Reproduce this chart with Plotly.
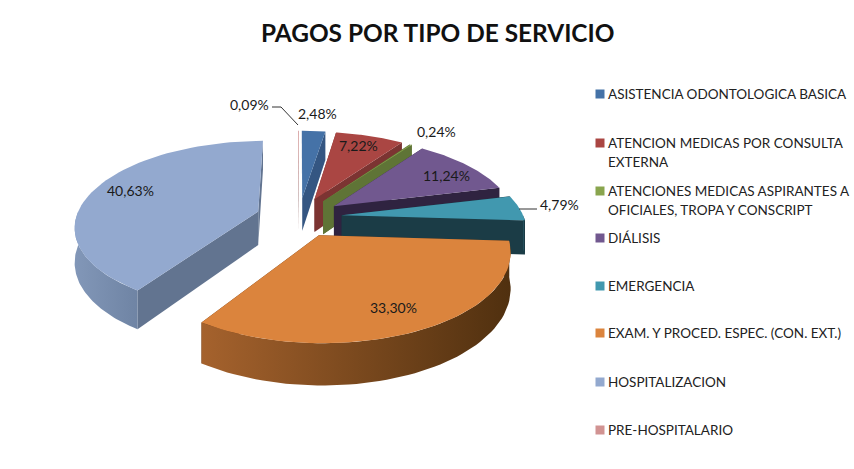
import math
import plotly.graph_objects as go

categories = ["ASISTENCIA ODONTOLOGICA BASICA", "ATENCION MEDICAS POR CONSULTA<br>EXTERNA",
              "ATENCIONES MEDICAS ASPIRANTES A<br>OFICIALES, TROPA Y CONSCRIPT", "DIÁLISIS", "EMERGENCIA",
              "EXAM. Y PROCED. ESPEC. (CON. EXT.)", "HOSPITALIZACION", "PRE-HOSPITALARIO"]
values = [2.48, 7.22, 0.24, 11.24, 4.79, 33.30, 40.63, 0.09]
colors = ["#4572A7", "#AA4643", "#89A54E", "#71588F", "#4198AF", "#DB843D", "#93A9CF", "#D19392"]
walls = ["#345682", "#7C3432", "#5F7436", "#2F2340", "#1B3C46", "#5A3215", "#627490", "#8E6463"]
wall_l = ["#4A6E9A", "#8E4240", "#6F8840", "#4A3A62", "#2A5A68", "#A5622D", "#8297B8", "#A07575"]
wall_d = ["#2C4A70", "#6A2C2A", "#4F6230", "#241A30", "#143038", "#50300F", "#6F84A4", "#7E5655"]
title = "PAGOS POR TIPO DE SERVICIO"

# projection of the exploded, tilted pie
CX, CY, R, TILT, D, H, PULL, ROT = 299, 217, 182, 0.46, 6.17 * 182, 34, 43, 0


def proj(px, py, z=0.0):
    s = D / (D - py)
    return CX + px * s, CY + (py * TILT + z) * s


def arc(a0, a1, n=60):
    return [a0 + (a1 - a0) * i / n for i in range(n + 1)]


def polar(a, r):
    t = math.radians(a)
    return r * math.sin(t), -r * math.cos(t)


def trace(pts, color, name, gradient=None):
    kw = dict(fillcolor=color)
    if gradient:
        kw = dict(fillgradient=dict(type="horizontal", colorscale=[[0, gradient[0]], [1, gradient[1]]]))
    return go.Scatter(x=[p[0] for p in pts], y=[p[1] for p in pts], mode="lines", fill="toself",
                      line=dict(width=0, color=color), name=name.replace("<br>", " "),
                      showlegend=False, hoverinfo="name", **kw)


total = sum(values)
spans, cum = [], ROT
for v in values:
    spans.append((cum, cum + v / total * 360))
    cum = spans[-1][1]

fig = go.Figure()
order = [7, 0, 1, 2, 3, 4, 6, 5]
for i in order:
    a0, a1 = spans[i]
    ex, ey = polar((a0 + a1) / 2, PULL)
    pt = lambda a, z=0.0: proj(ex + polar(a, R)[0], ey + polar(a, R)[1], z)
    apex = proj(ex, ey)
    apexb = proj(ex, ey, H)
    for a in (a0, a1):
        fig.add_trace(trace([apex, apexb, pt(a, H), pt(a), apex], walls[i], categories[i]))
    # outer wall: front half only
    lo, hi = max(a0, 90), min(a1, 270)
    if hi > lo:
        top = [pt(a) for a in arc(lo, hi)]
        bot = [pt(a, H) for a in arc(hi, lo)]
        fig.add_trace(trace(top + bot + [top[0]], walls[i], categories[i], gradient=(wall_l[i], wall_d[i])))
    surf = [apex] + [pt(a) for a in arc(a0, a1)] + [apex]
    fig.add_trace(trace(surf, colors[i], categories[i]))

# percentage labels
label_x = [317, 358, 436, 446, 559, 393, 130, 249]
label_y = [113, 145, 131, 175, 204, 307, 190, 104]
for v, x, y in zip(values, label_x, label_y):
    fig.add_annotation(x=x, y=y, xref="x", yref="y", text=f"{v:.2f}%".replace(".", ","), showarrow=False,
                       font=dict(family="Lato", size=14, color="#1a1a1a"))
for path in ("M272,107 L281,107 L298,125", "M519,209 L537,209"):
    fig.add_shape(type="path", path=path, xref="x", yref="y", line=dict(color="#333", width=1))

# legend
legend_y = [94, 143, 191, 238, 286, 333, 382, 430]
fig.add_trace(go.Scatter(x=[600] * 8, y=legend_y, mode="markers", showlegend=False, hoverinfo="skip",
                         marker=dict(symbol="square", size=9, color=colors, line=dict(width=0))))
for name, y in zip(categories, legend_y):
    for j, line in enumerate(name.split("<br>")):
        fig.add_annotation(x=606, y=y + j * 18.5, xref="x", yref="y", text=line, showarrow=False, xanchor="left",
                           font=dict(family="Lato", size=13.5, color="#222"))

fig.update_layout(
    width=854, height=469, autosize=False, margin=dict(l=0, r=0, t=0, b=0),
    paper_bgcolor="white", plot_bgcolor="white", showlegend=False,
    title=dict(text=f"<b>{title}</b>", x=0.5125, xanchor="center", y=0.928, yanchor="middle",
               font=dict(family="Lato", size=24.4, color="#111")),
    xaxis=dict(range=[0, 854], visible=False, fixedrange=True),
    yaxis=dict(range=[469, 0], visible=False, fixedrange=True),
)
fig.write_html("out.html", config={"displayModeBar": False},
               post_script="document.body.style.margin='0';document.documentElement.style.overflow='hidden';")
